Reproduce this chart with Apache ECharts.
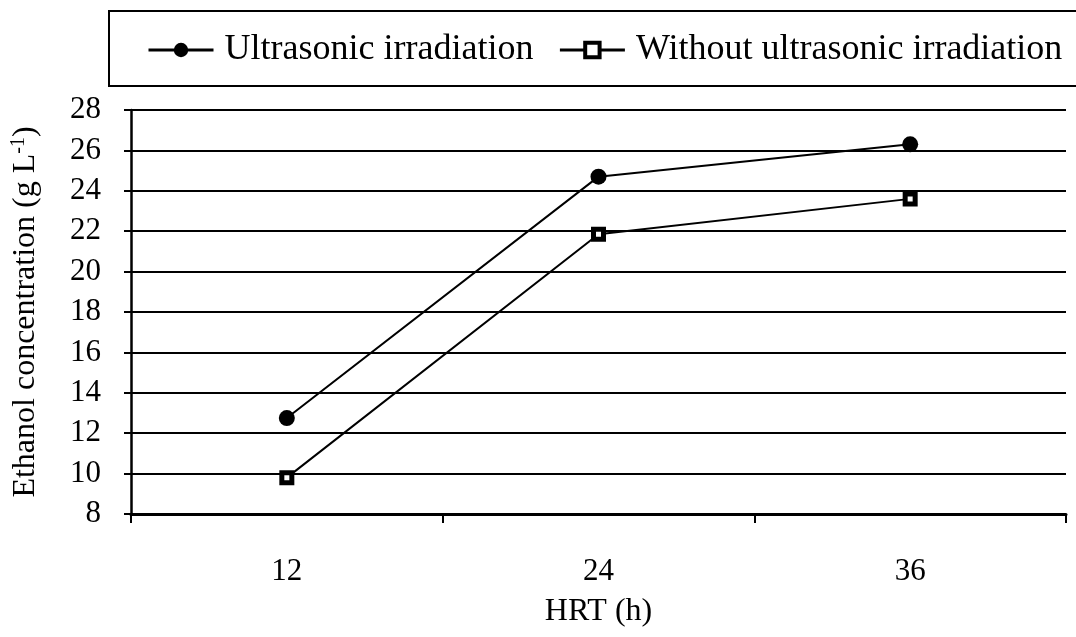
<!DOCTYPE html>
<html>
<head>
<meta charset="utf-8">
<script src="https://cdn.jsdelivr.net/npm/echarts@6/dist/echarts.min.js"></script>
<style>html,body{margin:0;padding:0;background:#fff}#c{width:1076px;height:637px}</style>
</head>
<body>
<div id="c"></div>
<script>
const categories = ['12', '24', '36'];
const ultrasonic = [12.75, 24.7, 26.3];
const withoutUltrasonic = [9.8, 21.85, 23.6];
const yTicks = [8, 28, 2];

const FONT = 'Liberation Serif';
const chart = echarts.init(document.getElementById('c'), null, {renderer: 'canvas'});
chart.setOption({
  animation: false,
  backgroundColor: '#fff',
  textStyle: {fontFamily: FONT, color: '#000'},
  graphic: [{
    type: 'rect', left: 108, top: 10, z: 0,
    shape: {width: 1000, height: 75},
    style: {fill: '#fff', stroke: '#000', lineWidth: 2}
  }],
  legend: {
    left: 142, top: 27, itemGap: 25, itemWidth: 65, itemHeight: 18,
    textStyle: {fontFamily: FONT, fontSize: 36, color: '#000', padding: [0, 0, 0, 6]},
    data: [
      {name: 'Ultrasonic irradiation', lineStyle: {width: 3}},
      {name: 'Without ultrasonic irradiation', lineStyle: {width: 3}, itemStyle: {color: '#fff', borderColor: '#000', borderWidth: 4}}
    ]
  },
  grid: {left: 131, right: 10, top: 110, bottom: 123},
  xAxis: {
    type: 'category', data: categories, boundaryGap: true,
    name: 'HRT (h)', nameLocation: 'middle', nameGap: 82,
    nameTextStyle: {fontFamily: FONT, fontSize: 32, color: '#000'},
    axisLine: {lineStyle: {color: '#000', width: 3}},
    axisTick: {show: true, length: 9, lineStyle: {color: '#000', width: 2}},
    axisLabel: {fontFamily: FONT, fontSize: 31, color: '#000', margin: 42}
  },
  yAxis: {
    type: 'value', min: yTicks[0], max: yTicks[1], interval: yTicks[2],
    name: 'Ethanol concentration (g L{sup|-1})', nameLocation: 'middle', nameGap: 88, nameRotate: 90,
    nameTextStyle: {fontFamily: FONT, fontSize: 32, color: '#000',
      rich: {sup: {fontFamily: FONT, fontSize: 20, color: '#000', verticalAlign: 'top', padding: [0, 0, 14, 0]}}},
    axisLine: {show: true, lineStyle: {color: '#000', width: 2.5}},
    axisTick: {show: true, length: 7, lineStyle: {color: '#000', width: 2}},
    axisLabel: {fontFamily: FONT, fontSize: 31, color: '#000', margin: 30},
    splitLine: {show: true, lineStyle: {color: '#000', width: 2}}
  },
  series: [{
    name: 'Ultrasonic irradiation', type: 'line', data: ultrasonic,
    symbol: 'circle', symbolSize: 16,
    lineStyle: {color: '#000', width: 2},
    itemStyle: {color: '#000'}
  }, {
    name: 'Without ultrasonic irradiation', type: 'line', data: withoutUltrasonic,
    symbol: 'rect', symbolSize: 10,
    lineStyle: {color: '#000', width: 2},
    itemStyle: {color: '#fff', borderColor: '#000', borderWidth: 5}
  }]
});
</script>
</body>
</html>
